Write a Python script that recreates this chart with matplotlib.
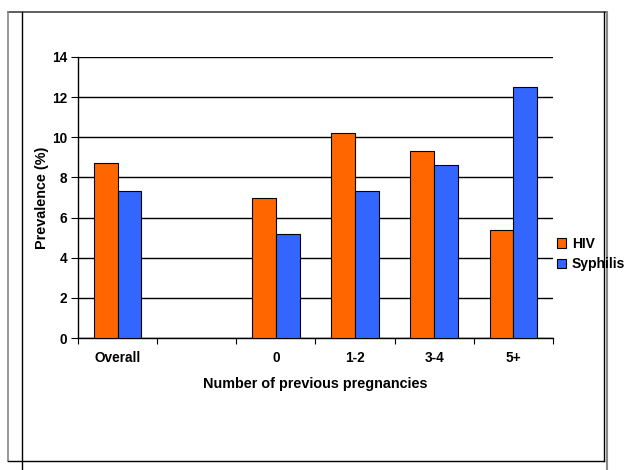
import numpy as np
import matplotlib
matplotlib.use("Agg")
import matplotlib.pyplot as plt
from matplotlib.lines import Line2D
from matplotlib.patches import Patch

# Prevalence by number of previous pregnancies (blank slot separates "Overall")
categories = ["Overall", "", "0", "1-2", "3-4", "5+"]
hiv = [8.7, np.nan, 7.0, 10.2, 9.3, 5.4]
syphilis = [7.3, np.nan, 5.2, 7.3, 8.6, 12.5]
yticks = [0, 2, 4, 6, 8, 10, 12, 14]

plt.rcParams["font.family"] = ["Liberation Sans", "DejaVu Sans"]
plt.rcParams["font.weight"] = "bold"

W, H = 627, 470
fig = plt.figure(figsize=(W / 100, H / 100), dpi=100)
fig.patch.set_facecolor("white")

left, right, top, bottom = 78, 553, 57, 338
ax = fig.add_axes([left / W, 1 - bottom / H, (right - left) / W, (bottom - top) / H])

x = np.arange(len(categories))
bw = 0.30
orange = "#FF6600"
blue = "#3366FF"
ax.bar(x - bw / 2, hiv, bw, color=orange, edgecolor="black", linewidth=0.8, zorder=3)
ax.bar(x + bw / 2, syphilis, bw, color=blue, edgecolor="black", linewidth=0.8, zorder=3)

ax.set_xlim(-0.5, len(categories) - 0.5)
ax.set_ylim(0, 14)
ax.set_yticks(yticks)
ax.set_yticklabels([str(v) for v in yticks], fontsize=9.8, fontweight="bold")
ax.yaxis.grid(True, color="black", linewidth=1.0, zorder=0)
ax.set_axisbelow(True)

ax.set_xticks(x)
ax.set_xticklabels(categories, fontsize=9.8, fontweight="bold")
ax.tick_params(axis="x", which="major", length=0, pad=9)
ax.set_xticks(np.arange(len(categories) + 1) - 0.5, minor=True)
ax.tick_params(axis="x", which="minor", length=4, width=0.8, color="black", direction="out")
ax.tick_params(axis="y", length=5, width=0.8, color="black", pad=3)

for s in ["top", "right"]:
    ax.spines[s].set_visible(False)
for s in ["left", "bottom"]:
    ax.spines[s].set_color("black")
    ax.spines[s].set_linewidth(1.0)

ax.set_xlabel("Number of previous pregnancies", fontsize=10.4, fontweight="bold", labelpad=9)
ax.set_ylabel("Prevalence (%)", fontsize=10.4, fontweight="bold", labelpad=2)

handles = [Patch(facecolor=orange, edgecolor="black", linewidth=0.8, label="HIV"),
           Patch(facecolor=blue, edgecolor="black", linewidth=0.8, label="Syphilis")]
fig.legend(handles=handles, loc="center left", bbox_to_anchor=(547 / W, 1 - 254 / H),
           frameon=False, prop={"weight": "bold", "size": 10},
           handlelength=0.7, handleheight=0.7, handletextpad=0.4,
           labelspacing=0.5, borderpad=0.2)

# Page frame around the chart
def fl(x0, y0, x1, y1, color="black", lw=1.0):
    fig.add_artist(Line2D([x0 / W, x1 / W], [1 - y0 / H, 1 - y1 / H],
                          color=color, linewidth=lw, transform=fig.transFigure))

fl(8, 12, 607, 12, color="#444444", lw=1.2)
fl(8, 12, 8, 461, color="#888888", lw=1.2)
fl(22, 12, 22, 470)
fl(604, 12, 604, 461)
fl(607, 12, 607, 470, color="#888888", lw=1.5)
fl(8, 461, 604, 461)

fig.savefig("out.png", dpi=100, facecolor="white")
